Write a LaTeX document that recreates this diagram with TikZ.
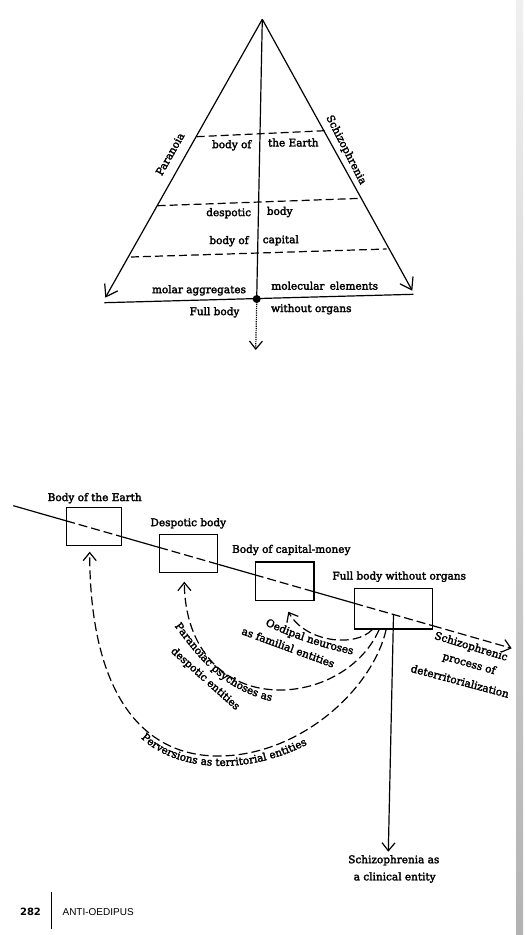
\documentclass[tikz,border=0pt]{standalone}
\usepackage{fontspec}
\setmainfont{DejaVu Serif}[FakeBold=2.5]
\newfontfamily\footsans{Liberation Sans}
\newfontfamily\dvsans{DejaVu Sans}
\usetikzlibrary{arrows.meta,decorations.text,calc}
\newcommand\labfont{\fontsize{10.5}{12}\selectfont}
\tikzset{
  lbl/.style={font=\labfont, inner sep=0pt},
  boxnode/.style={draw, rectangle, inner sep=0pt},
  dsh/.style={dash pattern=on 9pt off 4pt},
  bigtip/.style={-{Straight Barb[length=11pt,width=15pt]}},
  curvetext/.style={decorate, decoration={text along path, text align=left, text={|\labfont|#1}}},
}
\begin{document}
\begin{tikzpicture}[x=1pt,y=-1pt,line width=1.2pt,>={Straight Barb[length=8pt,width=13pt]}]
\useasboundingbox (0,0) rectangle (525,935);
% scan margin strip
\shade[top color=gray!12, bottom color=gray!60] (516,0) rectangle (523,935);

% ---------------- triangle ----------------
\coordinate (apex) at (262.3,19.3);
\coordinate (ltip) at (105.3,297.7);
\coordinate (rtip) at (412.3,290.7);
\coordinate (bl) at (104.3,302.7);
\coordinate (br) at (413.3,294.3);
\node[circle, fill, inner sep=0pt, minimum size=8pt] (dot) at (256.7,299) {};
\coordinate (dtip) at (255.7,350);
\draw[bigtip] (apex) -- (ltip);
\draw[bigtip] (apex) -- (rtip);
\draw (apex) -- (dot.center);
\draw (bl) -- (br);
\draw[densely dotted,->] (dot.south) -- (dtip);

\coordinate (d1l) at (196.7,136.7); \coordinate (d1r) at (325,130.7);
\coordinate (d2l) at (157.7,205.7); \coordinate (d2r) at (361.7,198.3);
\coordinate (d3l) at (131,257);     \coordinate (d3r) at (386.7,249);
\draw[dash pattern=on 8pt off 4pt] (d1l) -- (d1r);
\draw[dash pattern=on 8pt off 4pt] (d2l) -- (d2r);
\draw[dash pattern=on 8pt off 4pt] (d3l) -- (d3r);

\node[lbl, rotate=60.6] (paranoia) at (170,154) {Paranoia};
\node[lbl, rotate=-63] (schizo) at (346,150) {Schizophrenia};

\node[lbl] (t1) at (231.7,145.3) {body of};
\node[lbl] (t2) at (293.3,142.5) {the Earth};
\node[lbl] (t3) at (228.7,213.2) {despotic};
\node[lbl] (t4) at (279.7,212) {body};
\node[lbl] (t5) at (229,241.2) {body of};
\node[lbl] (t6) at (280.8,240.3) {capital};
\node[lbl] (t7) at (199,290.3) {molar aggregates};
\node[lbl] (t8) at (324.7,285.7) {molecular\hspace{0.5em}elements};
\node[lbl] (t9) at (214.5,312.3) {Full body};
\node[lbl] (t10) at (311.3,309.2) {without organs};

% ---------------- lower diagram ----------------
\node[boxnode, minimum width=55pt, minimum height=38pt] (b1) at (94.2,526.7) {};
\node[boxnode, minimum width=58pt, minimum height=38.4pt] (b2) at (188.7,553.5) {};
\node[boxnode, minimum width=58.7pt, minimum height=38.7pt] (b3) at (284.7,581.3) {};
\node[boxnode, minimum width=77.5pt, minimum height=40.7pt] (b4) at (393.5,608.7) {};

\coordinate (ms) at (13.3,505.7);
\coordinate (me) at (511.7,648.3);
\coordinate (i1w) at (intersection of ms--me and b1.north west--b1.south west);
\coordinate (i1e) at (intersection of ms--me and b1.north east--b1.south east);
\coordinate (i2w) at (intersection of ms--me and b2.north west--b2.south west);
\coordinate (i2e) at (intersection of ms--me and b2.north east--b2.south east);
\coordinate (i3w) at (intersection of ms--me and b3.north west--b3.south west);
\coordinate (i3e) at (intersection of ms--me and b3.north east--b3.south east);
\coordinate (i4w) at (intersection of ms--me and b4.north west--b4.south west);
\coordinate (i4e) at (intersection of ms--me and b4.north east--b4.south east);
\coordinate (v4) at (intersection of ms--me and b4.north--b4.south);

\draw (ms) -- (i1w);
\draw[dsh] (i1w) -- (i1e);
\draw (i1e) -- (i2w);
\draw[dsh] (i2w) -- (i2e);
\draw (i2e) -- (i3w);
\draw[dsh] (i3w) -- (i3e);
\draw (i3e) -- (i4w);
\draw[dsh] (i4w) -- (i4e);
\draw[dsh,->] (i4e) -- (me);

\node[lbl] (l1) at (94.7,498.2) {Body of the Earth};
\node[lbl] (l2) at (188.3,523.3) {Despotic body};
\node[lbl] (l3) at (291.3,550) {Body of capital-money};
\node[lbl] (l4) at (399.2,576.7) {Full body without organs};

% vertical arrow
\coordinate (vtip) at (388.3,851.7);
\draw[->] (v4) -- (vtip);
\node[lbl] (sc1) at (393.8,860.3) {Schizophrenia as};
\node[lbl] (sc2) at (394.7,877.5) {a clinical entity};

% curved dashed arrows from box 4
\coordinate (c1s) at ($(b4.south west)+(18,0)$);
\coordinate (c2s) at ($(b4.south west)+(25,0)$);
\coordinate (c3s) at ($(b4.south west)+(32,0)$);
\coordinate (c1t) at (288.3,611.7);
\coordinate (c2t) at (184.3,581.7);
\coordinate (c3t) at (89.7,551.7);
\draw[dsh,->] (c1s) .. controls (355,648) and (305,642) .. (c1t);
\draw[dsh,->] (c2s) .. controls (362,668) and (320,690) .. (280,690)
                    .. controls (225,690) and (185,650) .. (c2t);
\draw[dsh,->] (c3s) .. controls (372,690) and (300,755) .. (220,756)
                    .. controls (140,757) and (89.7,690) .. (c3t);

% curved labels
\path[curvetext={Oedipal neuroses}] (265,625) .. controls (290,637) and (325,650) .. (375,659);
\path[curvetext={as familial entities}] (241,634) -- (358,677);
\path[curvetext={Paranoiac psychoses as}] (174.5,626) .. controls (204.5,666) and (230,699) .. (300,706);
\path[curvetext={despotic entities}] (170.4,652) -- (258,730);
\path[curvetext={Perversions as territorial entities}] (141,738) .. controls (180,775) and (265,780) .. (340,724);

\node[lbl, rotate=-17] (sp1) at (471,647) {Schizophrenic};
\node[lbl, rotate=-16] (sp2) at (469,664) {process of};
\node[lbl, rotate=-15] (sp3) at (460,681) {deterritorialization};

% footer
\node[inner sep=0pt, font=\dvsans\bfseries\fontsize{10}{12}\selectfont] (pg) at (30.5,912) {282};
\coordinate (bar1) at (51,892);
\coordinate (bar2) at (51,929);
\draw[line width=0.8pt] (bar1) -- (bar2);
\node[inner sep=0pt, anchor=west, font=\footsans\fontsize{10}{12}\selectfont] (title) at (62,912) {ANTI-OEDIPUS};
\end{tikzpicture}
\end{document}
